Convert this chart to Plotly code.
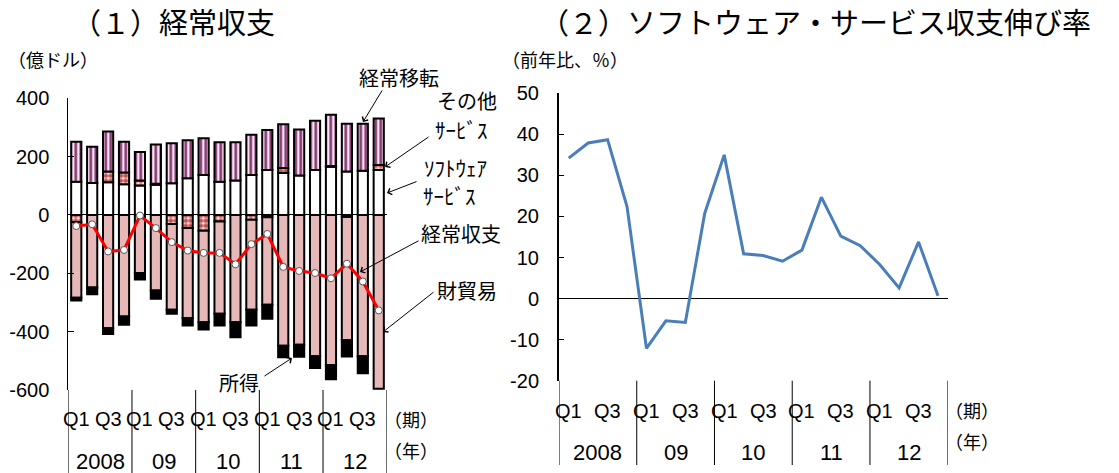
import plotly.graph_objects as go

W, H = 1119, 473

# ---------------- data ----------------
quarters = ["Q1", "Q2", "Q3", "Q4"] * 5
years = ["2008", "09", "10", "11", "12"]
quarter_labels = ["Q1", "Q3"]

# (1) current account components (100 million USD)
software_services = [114, 110, 112, 105, 101, 104, 109, 126, 137, 114,
                     118, 137, 154, 144, 135, 154, 165, 149, 152, 154]
other_services = [-25, None, 37, 41, 17, 3, -31, -45, -54, -22,
                  None, -16, -8, 17, None, None, 3, -7, None, 17]
current_transfers = [137, 124, 137, 105, 98, 135, 137, 130, 126, 135,
                     131, 138, 137, 150, 158, 169, 176, 164, 161, 160]
goods_trade = [-259, -249, -388, -348, -199, -259, -294, -308, -314, -317,
               -368, -309, -300, -448, -445, -484, -514, -422, -484, -596]
income = [-9, -23, -20, -28, -22, -28, -14, -26, -25, -40,
          -51, -54, -48, -40, -41, -41, -49, -56, -59, None]
current_account = [-38, -32, -125, -120, -2, -45, -93, -122, -130, -130,
                   -169, -100, -65, -178, -192, -199, -217, -167, -228, -327]

# (2) software services growth (% yoy)
software_growth = [34.2, 37.9, 38.7, 22.4, -12.1, -5.4, -5.8, 20.8, 35.0, 10.9,
                   10.5, 9.1, 11.8, 24.7, 15.2, 12.9, 8.3, 2.6, 13.8, 0.7]

left_yticks = [400, 200, 0, -200, -400, -600]
right_yticks = [50, 40, 30, 20, 10, 0, -10, -20]

# ---------------- helpers ----------------
def px(x):
    return x / W

def py(y):
    return 1 - y / H

LAT = "Liberation Sans, Arial, Noto Sans CJK JP"
CJK = "Noto Sans CJK JP, Liberation Sans"

xs = list(range(len(quarters)))

fig = go.Figure()

line_black = dict(color="black", width=2)

fig.add_trace(go.Bar(x=xs, y=software_services, name="ソフトウェアサービス",
                     marker=dict(color="white", line=line_black),
                     xaxis="x", yaxis="y"))
fig.add_trace(go.Bar(x=xs, y=other_services, name="その他サービス",
                     marker=dict(color="#fbeeee", line=line_black,
                                 pattern=dict(shape=".", fillmode="overlay",
                                              fgcolor="#c0504d", fgopacity=1,
                                              size=5, solidity=0.7)),
                     xaxis="x", yaxis="y"))
fig.add_trace(go.Bar(x=xs, y=current_transfers, name="経常移転",
                     marker=dict(color="#f6e4ee", line=line_black,
                                 pattern=dict(shape="|", fillmode="overlay",
                                              fgcolor="#85306f", fgopacity=1,
                                              size=5, solidity=0.5)),
                     xaxis="x", yaxis="y"))
fig.add_trace(go.Bar(x=xs, y=goods_trade, name="財貿易",
                     marker=dict(color="#e6b9b8", line=line_black),
                     xaxis="x", yaxis="y"))
fig.add_trace(go.Bar(x=xs, y=income, name="所得",
                     marker=dict(color="black", line=line_black),
                     xaxis="x", yaxis="y"))
fig.add_trace(go.Scatter(x=xs, y=current_account, name="経常収支", mode="lines+markers",
                         line=dict(color="#ff0000", width=3),
                         marker=dict(size=7, color="white",
                                     line=dict(color="#555555", width=1)),
                         xaxis="x", yaxis="y"))

fig.add_trace(go.Scatter(x=xs, y=software_growth, mode="lines",
                         line=dict(color="#4a7ebb", width=3),
                         xaxis="x2", yaxis="y2"))

# domains
L_x0, L_x1, L_yt, L_yb = 68.3, 386.7, 98.3, 390.0
R_x0, R_x1, R_yt, R_yb = 559.0, 947.7, 93.3, 380.7

fig.update_layout(
    width=W, height=H,
    margin=dict(l=0, r=0, t=0, b=0, pad=0, autoexpand=False),
    paper_bgcolor="white", plot_bgcolor="white",
    showlegend=False,
    barmode="relative", bargap=0.36,
    font=dict(family=LAT, size=19, color="black"),
    xaxis=dict(domain=[px(L_x0), px(L_x1)], range=[-0.5, 19.5],
               showticklabels=False, ticks="", showline=False, showgrid=False,
               zeroline=False, anchor="y", automargin=False),
    yaxis=dict(domain=[py(L_yb), py(L_yt)], range=[-600, 400],
               tickvals=left_yticks, ticktext=[str(v) for v in left_yticks],
               ticks="inside", ticklen=6, tickcolor="black",
               showline=True, linecolor="black", linewidth=1,
               showgrid=False, zeroline=True, zerolinecolor="black", zerolinewidth=1,
               ticklabelstandoff=14, anchor="x", automargin=False,
               tickfont=dict(family=LAT, size=20)),
    xaxis2=dict(domain=[px(R_x0), px(R_x1)], range=[-0.5, 19.5],
                showticklabels=False, ticks="", showline=False, showgrid=False,
                zeroline=False, anchor="y2", automargin=False),
    yaxis2=dict(domain=[py(R_yb), py(R_yt)], range=[-20, 50],
                tickvals=right_yticks, ticktext=[str(v) for v in right_yticks],
                ticks="inside", ticklen=5, tickcolor="black",
                showline=True, linecolor="black", linewidth=2,
                showgrid=False, zeroline=True, zerolinecolor="black", zerolinewidth=1,
                ticklabelstandoff=14, anchor="x2", automargin=False,
                tickfont=dict(family=LAT, size=20)),
)

shapes = []
annotations = []

# category separators + labels
for k in range(len(years) + 1):
    xv = -0.5 + 4 * k
    shapes.append(dict(type="line", xref="x", yref="paper", x0=xv, x1=xv,
                       y0=py(L_yb), y1=py(473), line=dict(color="black", width=1)))
    shapes.append(dict(type="line", xref="x2", yref="paper", x0=xv, x1=xv,
                       y0=py(R_yb), y1=py(465), line=dict(color="black", width=1)))

for k, yr in enumerate(years):
    for j, q in enumerate(quarter_labels):
        idx = 4 * k + 2 * j
        annotations.append(dict(text=q, xref="x", yref="paper", x=idx, y=py(419),
                                yanchor="middle", showarrow=False,
                                font=dict(family=LAT, size=20)))
        annotations.append(dict(text=q, xref="x2", yref="paper", x=idx, y=py(411),
                                yanchor="middle", showarrow=False,
                                font=dict(family=LAT, size=20)))
    annotations.append(dict(text=yr, xref="x", yref="paper", x=4 * k + 1.5, y=py(461),
                            yanchor="middle", showarrow=False,
                            font=dict(family=LAT, size=22)))
    annotations.append(dict(text=yr, xref="x2", yref="paper", x=4 * k + 1.5, y=py(452),
                            yanchor="middle", showarrow=False,
                            font=dict(family=LAT, size=22)))

def text(t, x, y, size=18, xanchor="center", family=CJK):
    annotations.append(dict(text=t, xref="paper", yref="paper", x=px(x), y=py(y),
                            xanchor=xanchor, yanchor="middle", showarrow=False,
                            font=dict(family=family, size=size, color="black")))

def arrow(x_head, y_head, x_tail, y_tail):
    annotations.append(dict(text="", xref="paper", yref="paper",
                            x=px(x_head), y=py(y_head),
                            ax=x_tail - x_head, ay=y_tail - y_head,
                            axref="pixel", ayref="pixel",
                            showarrow=True, arrowhead=4, arrowsize=1.3, arrowwidth=1,
                            arrowcolor="black", standoff=0, startstandoff=0))

# titles and units
text("（１）経常収支", 173, 21, size=29)
text("（２）ソフトウェア・サービス収支伸び率", 815, 21, size=29)
text("（億ドル）", 6, 59, size=18, xanchor="left")
text("（前年比、％）", 500, 59, size=18, xanchor="left")
text("（期）", 382, 419, size=18, xanchor="left")
text("（年）", 382, 450, size=18, xanchor="left")
text("（期）", 943, 410, size=18, xanchor="left")
text("（年）", 943, 441, size=18, xanchor="left")

# series labels with arrows
text("経常移転", 399, 78, size=20)
arrow(363, 122, 383, 89)
text("その他", 467, 101, size=20)
text("ｻｰﾋﾞｽ", 461, 129, size=21)
arrow(385, 167, 430, 136)
text("ｿﾌﾄｳｪｱ", 455, 167, size=21)
text("ｻｰﾋﾞｽ", 449, 195, size=21)
arrow(387, 193, 418, 181)
text("経常収支", 461, 233, size=20)
arrow(360, 272, 420, 240)
text("財貿易", 467, 290, size=20)
arrow(383, 332, 435, 291)
text("所得", 239, 382, size=20)
arrow(292, 358, 263, 377)

fig.update_layout(shapes=shapes, annotations=annotations)

fig.write_html("out.html", config={"displayModeBar": False},
               post_script="document.body.style.margin='0';document.body.style.overflow='hidden';")
